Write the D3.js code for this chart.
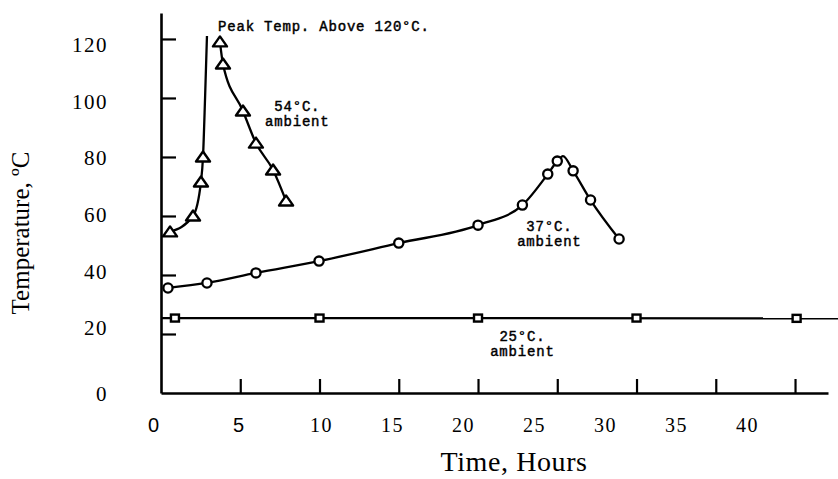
<!DOCTYPE html>
<html>
<head>
<meta charset="utf-8">
<script src="https://d3js.org/d3.v7.min.js"></script>
<style>
  body { margin: 0; background: #fff; }
  svg { display: block; }
  .note { font-family: "Liberation Mono", monospace; font-size: 14px; letter-spacing: 0.8px; stroke: #000; stroke-width: 0.45px; }
</style>
</head>
<body>
<svg width="838" height="479"></svg>
<script>
// 54 C ambient - rising run, goes off scale above 120
let rise54Hours = [0.57, 2.02, 2.52, 2.65];
let rise54Temps = [54.6, 60.0, 71.5, 80.0];
let rise54OffHours = [2.78, 2.9];
let rise54OffTemps = [100, 121];
// 54 C ambient - falling run
let fall54Hours = [3.72, 3.91, 5.17, 5.99, 7.07, 7.89];
let fall54Temps = [119, 111.5, 95.6, 84.7, 75.6, 65.1];
// 37 C ambient
let run37Hours = [0.44, 2.9, 5.99, 9.97, 15.0, 20.0, 22.8, 24.4, 25.0, 26.0, 27.1, 28.9];
let run37Temps = [35.6, 37.3, 40.7, 44.7, 50.8, 56.9, 63.7, 74.2, 78.6, 75.3, 65.4, 52.2];
let peak37Hour = 25.36;
let peak37Temp = 80.3;
// 25 C ambient
let run25Hours = [0.88, 10, 20, 30, 40.1];
let run25Temps = [25.4, 25.4, 25.4, 25.4, 25.3];
let run25LineHours = [0, 42.9];
let run25LineTemps = [25.4, 25.3];

let xTicks = [5, 10, 15, 20, 25, 30, 35, 40];
let xTickLabels = [0, 5, 10, 15, 20, 25, 30, 35, 40];
let yTicks = [20, 40, 60, 80, 100, 120];
let yTickLabels = [0, 20, 40, 60, 80, 100, 120];

let notes = [
    {lines: ["Peak Temp. Above 120°C."], hour: 3.6, temp: 122.6, anchor: "start"},
    {lines: ["54°C.", "ambient"], hour: 8.6, temp: 95.6, anchor: "middle"},
    {lines: ["37°C.", "ambient"], hour: 24.5, temp: 54.9, anchor: "middle"},
    {lines: ["25°C.", "ambient"], hour: 22.8, temp: 17.6, anchor: "middle"}
];

let zip = (hs, ts) => hs.map((h, i) => ({h: h, t: ts[i]}));

window.addEventListener('load', e => {
    drawChart();
});

function drawChart() {
    let svg = d3.select("svg");

    let xScale = d3.scaleLinear().domain([0, 42.08]).range([161, 828]);
    let yScale = d3.scaleLinear().domain([0, 128.8]).range([393, 13]);

    // the printed tick numbers do not sit exactly on the tick marks
    let xLabelScale = d3.scaleLinear().domain([0, 5, 10, 40]).range([153, 238, 321, 747]);
    let yLabelScale = d3.scaleLinear().domain([0, 20, 120]).range([394, 328, 45]);

    // axes
    let xAxis = svg.append("g")
        .attr("transform", "translate(0,393)")
        .call(d3.axisBottom(xScale).tickValues(xTicks).tickSizeInner(-14).tickSizeOuter(0).tickFormat(""));
    xAxis.select(".domain").attr("stroke-width", 2.6);
    xAxis.selectAll(".tick line").attr("stroke-width", 2.2);

    let yAxis = svg.append("g")
        .attr("transform", "translate(161,0)")
        .call(d3.axisLeft(yScale).tickValues(yTicks).tickSizeInner(-15).tickSizeOuter(0).tickFormat(""));
    yAxis.select(".domain").attr("stroke-width", 2.6);
    yAxis.selectAll(".tick line").attr("stroke-width", 2.2);

    let xLab = svg.append("g")
        .attr("transform", "translate(0,418)")
        .call(d3.axisBottom(xLabelScale).tickValues(xTickLabels).tickSize(0).tickPadding(0));
    xLab.select(".domain").remove();
    xLab.selectAll("text")
        .attr("fill", "#000")
        .style("font-family", d => d < 10 ? "Liberation Sans, Arial, sans-serif" : "Liberation Serif, Times New Roman, serif")
        .style("font-size", "20px")
        .style("letter-spacing", d => d < 10 ? "0px" : "1.5px");

    let yLab = svg.append("g")
        .attr("transform", "translate(108,0)")
        .call(d3.axisLeft(yLabelScale).tickValues(yTickLabels).tickSize(0).tickPadding(0));
    yLab.select(".domain").remove();
    yLab.selectAll("text")
        .attr("fill", "#000")
        .style("font-family", "Liberation Serif, Times New Roman, serif")
        .style("font-size", "21px")
        .style("letter-spacing", "1.5px");

    // axis titles
    svg.append("text")
        .attr("x", 514)
        .attr("y", 471)
        .attr("text-anchor", "middle")
        .style("font-family", "Liberation Serif, Times New Roman, serif")
        .style("font-size", "28px")
        .style("letter-spacing", "0.6px")
        .text("Time, Hours");

    svg.append("text")
        .attr("transform", "translate(29,233) rotate(-90)")
        .attr("text-anchor", "middle")
        .style("font-family", "Liberation Serif, Times New Roman, serif")
        .style("font-size", "25px")
        .text("Temperature, ºC");

    let line = d3.line()
        .x(d => xScale(d.h))
        .y(d => yScale(d.t))
        .curve(d3.curveMonotoneX);

    let rise54 = zip(rise54Hours, rise54Temps);
    let fall54 = zip(fall54Hours, fall54Temps);
    let run37 = zip(run37Hours, run37Temps);
    let run25 = zip(run25Hours, run25Temps);

    let paths = [
        rise54.concat(zip(rise54OffHours, rise54OffTemps)),
        fall54,
        run37.concat([{h: peak37Hour, t: peak37Temp}]).sort((a, b) => a.h - b.h),
        zip(run25LineHours, run25LineTemps)
    ];

    svg.selectAll(".curve")
        .data(paths)
        .enter()
        .append("path")
        .attr("class", "curve")
        .attr("d", line)
        .attr("fill", "none")
        .attr("stroke", "#000")
        .attr("stroke-width", 2.3);

    // triangles
    svg.selectAll(".tri")
        .data(rise54.concat(fall54))
        .enter()
        .append("path")
        .attr("class", "tri")
        .attr("transform", d => "translate(" + xScale(d.h) + "," + yScale(d.t) + ")")
        .attr("d", "M-7,4.5L7,4.5L0,-5.5Z")
        .attr("fill", "#fff")
        .attr("stroke", "#000")
        .attr("stroke-width", 2.4)
        .attr("stroke-linejoin", "round");

    // circles
    svg.selectAll(".dot")
        .data(run37)
        .enter()
        .append("circle")
        .attr("class", "dot")
        .attr("cx", d => xScale(d.h))
        .attr("cy", d => yScale(d.t))
        .attr("r", 4.6)
        .attr("fill", "#fff")
        .attr("stroke", "#000")
        .attr("stroke-width", 2.3);

    // squares
    svg.selectAll(".sq")
        .data(run25)
        .enter()
        .append("rect")
        .attr("class", "sq")
        .attr("x", d => xScale(d.h) - 4)
        .attr("y", d => yScale(d.t) - 3.5)
        .attr("width", 8)
        .attr("height", 7)
        .attr("fill", "#fff")
        .attr("stroke", "#000")
        .attr("stroke-width", 2.4);

    // notes
    let note = svg.selectAll(".note")
        .data(notes)
        .enter()
        .append("text")
        .attr("class", "note")
        .attr("text-anchor", d => d.anchor)
        .attr("x", d => xScale(d.hour))
        .attr("y", d => yScale(d.temp));

    note.selectAll("tspan")
        .data(d => d.lines.map(s => ({s: s, x: xScale(d.hour)})))
        .enter()
        .append("tspan")
        .attr("x", d => d.x)
        .attr("dy", (d, i) => i === 0 ? 0 : 15)
        .text(d => d.s);
}
</script>
</body>
</html>
